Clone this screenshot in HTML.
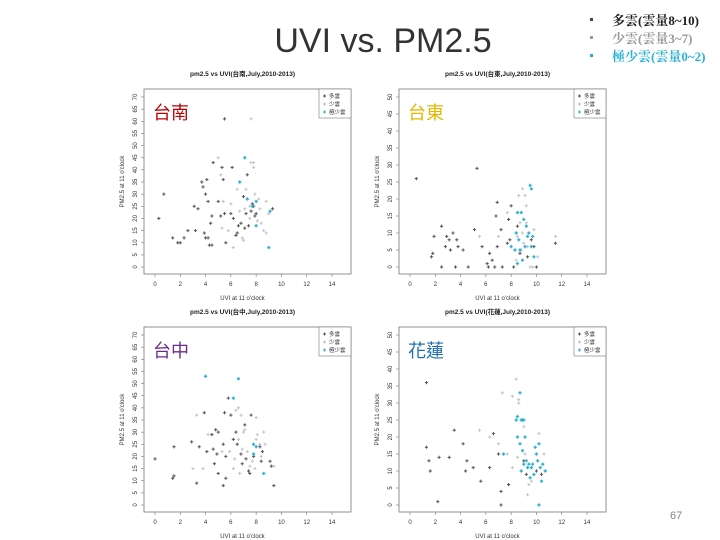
<!DOCTYPE html>
<html><head><meta charset="utf-8">
<style>
body{margin:0;background:#fff;}
#wrap{position:relative;width:720px;height:540px;overflow:hidden;font-family:"Liberation Sans","Noto Sans CJK TC",sans-serif;}
</style></head>
<body>
<div id="wrap">
<svg id="svg" width="720" height="540" xmlns="http://www.w3.org/2000/svg">
<text x="383" y="52" text-anchor="middle" font-size="34" fill="#333" font-family="Liberation Sans, sans-serif">UVI vs. PM2.5</text>
<g font-family="Liberation Serif, Noto Serif CJK SC, serif" font-size="13" font-weight="bold">
<rect x="590" y="18" width="3" height="3" fill="#444"/>
<text x="612" y="25" fill="#222">多雲(雲量8~10)</text>
<rect x="590" y="36" width="3" height="3" fill="#999"/>
<text x="612" y="43" fill="#999">少雲(雲量3~7)</text>
<rect x="590" y="54" width="3" height="3" fill="#29b2d4"/>
<text x="612" y="61" fill="#29b2d4">極少雲(雲量0~2)</text>
</g>
<text x="670" y="519" font-size="11" fill="#888">67</text>
</svg>
</div>
<script>
// Tainan
const tnDark=[[0.3,20],[0.7,30],[1.4,12],[1.8,10],[2,10],[2.3,12],[2.6,15],[3.1,25],[3.2,15],[3.4,24],[3.7,35],[3.8,33],[3.9,14],[4,12],[4,30],[4.1,36],[4.2,12],[4.2,27],[4.3,9],[4.4,18],[4.5,9],[4.5,21],[4.6,43],[5,27],[5.2,21],[5.3,41],[5.4,36],[5.5,61],[5.6,10],[5.5,22],[6,22],[6.1,41],[6.2,20],[6.4,13],[6.5,14],[6.6,17],[6.8,18],[7,29],[7.1,16],[7.2,22],[7.3,38],[7.4,17],[7.6,23],[7.7,26],[7.8,25],[7.9,21],[8,22],[9.3,24]];
const tnLight=[[5,45],[5.2,38],[5.4,27],[5.3,16],[5.8,15],[6,26],[6.2,8],[6.5,32],[6.9,12],[7,11],[7.2,32],[7.5,25],[7.6,61],[7.6,43],[7.8,43],[7.8,41],[7.5,20],[7.9,30],[8.1,19],[8.3,24],[8.6,15],[8.8,14],[8.8,27],[9,22],[6.7,23],[7.1,24],[8.4,18],[8.2,28]];
const tnCyan=[[7.1,45],[6.7,35],[7.3,28],[8,27],[8,17],[9,8],[9.1,23],[7.7,25]];
// Taitung
const ttDark=[[0.5,26],[1.7,3],[1.8,4],[1.9,9],[2.5,12],[2.5,0],[2.8,6],[2.9,9],[3.1,8],[3.2,5],[3.4,10],[3.6,0],[3.7,8],[3.8,6],[4.2,5],[4.6,0],[5.1,11],[5.3,29],[5.7,6],[6.1,1],[6.2,0],[6.3,4],[6.5,2],[6.7,0],[6.8,15],[6.9,6],[6.9,19],[7.2,11],[7.3,0],[7.7,7],[7.8,14],[7.9,8],[8,18],[8.2,0],[8.5,12],[8.7,4],[9.3,3],[9.6,8],[9.8,6],[10,0],[11.5,7]];
const ttLight=[[5.5,9],[7,9],[7.7,16],[8.5,9],[8.6,21],[8.9,23],[9.1,21],[9.2,18],[8.7,13],[8.9,10],[9,7],[9.3,6],[9.5,0],[9.7,0],[9.8,11],[10.1,3],[11.5,9],[8.4,2],[8.8,5],[9.2,13]];
const ttCyan=[[8,6],[8.4,10],[8.5,16],[8.6,8],[8.7,5],[8.8,16],[9,14],[9.2,12],[9.3,9],[9.5,24],[9.6,6],[9.6,23],[9.7,9],[9.8,3],[8.5,1],[8.9,2],[9.1,6],[8.3,5],[9.4,10]];
// Taichung
const tcDark=[[0,19],[1.4,11],[1.5,12],[1.5,24],[2.9,26],[3.3,9],[3.5,24],[3.9,38],[4.1,22],[4.5,29],[4.6,23],[4.7,17],[4.8,31],[4.9,21],[5,30],[5,13],[5.4,8],[5.4,25],[5.5,38],[5.6,20],[5.6,11],[5.8,44],[6,37],[6.2,27],[6.4,30],[6.5,25],[6.8,21],[6.9,17],[7.1,33],[7.2,19],[7.4,14],[7.6,37],[7.8,20],[8.3,24],[8.4,18],[8.5,22],[9.1,18],[9.2,16],[9.4,8],[7.5,13]];
const tcLight=[[3,15],[3.3,37],[3.8,15],[4.2,29],[4.5,29],[5.3,22],[5.9,22],[6.2,15],[6.3,19],[6.4,39],[6.6,40],[6.6,27],[6.8,37],[6.9,23],[7,30],[7.1,31],[7.3,22],[7.5,16],[7.7,18],[8,36],[8,27],[8.1,29],[8.3,25],[8.4,20],[8.6,30],[8.7,25],[9.4,16],[6.7,13],[7.9,15]];
const tcCyan=[[4,53],[6.6,52],[6.2,44],[7.8,25],[7.8,21],[8,24],[8.6,13]];
// Hualien
const hlDark=[[1.3,36],[1.3,17],[1.5,13],[1.6,10],[2.2,1],[2.3,14],[3.1,14],[3.5,22],[4.2,18],[4.4,10],[4.5,13],[5,11],[5.6,7],[6.3,11],[6.6,21],[7,15],[7.2,4],[7.2,0],[7.8,6],[9,13],[9.2,9],[10,10],[10.4,9]];
const hlLight=[[5.5,22],[6.3,20],[7,18],[7.3,33],[7.7,15],[8.1,32],[8.4,37],[8.6,31],[8.6,30],[9,23],[9.1,15],[9.4,6],[9.3,3],[8.5,14],[10.2,21],[10.6,15],[8.1,11],[9.6,7]];
const hlCyan=[[7.4,15],[8.4,25],[8.5,26],[8.7,33],[8.8,25],[8.9,25],[9,25],[8.5,20],[8.7,18],[8.9,16],[9.1,20],[9.2,13],[9.3,11],[9.4,12],[9.6,11],[9.8,9],[9.9,17],[10,15],[10.1,13],[10.2,18],[10.2,0],[10.3,11],[10.4,7],[10.5,12],[10.7,10],[9.5,8],[8.8,10],[9,12],[9.7,12]];
const xTicks=[0,2,4,6,8,10,12,14];
const yTicks70=[0,5,10,15,20,25,30,35,40,45,50,55,60,65,70];
const yTicks50=[0,5,10,15,20,25,30,35,40,45,50];

const NS='http://www.w3.org/2000/svg';
const svg=document.getElementById('svg');
function mk(tag,attrs,parent){const e=document.createElementNS(NS,tag);for(const k in attrs)e.setAttribute(k,attrs[k]);(parent||svg).appendChild(e);return e;}

function panel(cfg){
  const g=mk('g',{});
  
  
  const L=cfg.L,T=cfg.T,W=207,H=185;
  const x0=L+11,x14=L+188;
  const yb=T+178,yt=T+8;
  const yMax=cfg.yMax;
  const sx=v=>x0+(x14-x0)*v/14;
  const sy=v=>yb-(yb-yt)*v/yMax;
  const t=mk('text',{x:L+W/2-5,y:T-13,'text-anchor':'middle','font-size':'6.5','font-weight':'bold',fill:'#222'},g);
  t.textContent='pm2.5 vs UVI('+cfg.city+',July,2010-2013)';
  
  
  mk('rect',{x:L,y:T,width:W,height:H,fill:'none',stroke:'#777','stroke-width':'0.8'},g);
  xTicks.forEach(v=>{
    mk('line',{x1:sx(v),x2:sx(v),y1:T+H,y2:T+H+3,stroke:'#777','stroke-width':'0.6'},g);
    const tx=mk('text',{x:sx(v),y:T+H+12,'text-anchor':'middle','font-size':'6',fill:'#333'},g);
    tx.textContent=v;
    
    
  });
  cfg.yTicks.forEach(v=>{
    mk('line',{x1:L,x2:L-3,y1:sy(v),y2:sy(v),stroke:'#777','stroke-width':'0.6'},g);
    const ty=mk('text',{x:L-7,y:sy(v),'text-anchor':'middle','font-size':'6',fill:'#333',transform:'rotate(-90 '+(L-7)+' '+sy(v)+')'},g);
    ty.textContent=v;
    
    
  });
  const xl=mk('text',{x:L+W/2-5,y:T+H+26,'text-anchor':'middle','font-size':'6',fill:'#333'},g);
  xl.textContent='UVI at 11 o\'clock';
  
  
  const yl=mk('text',{x:L-20,y:T+H/2,'text-anchor':'middle','font-size':'6',fill:'#333',transform:'rotate(-90 '+(L-20)+' '+(T+H/2)+')'},g);
  yl.textContent='PM2.5 at 11 o\'clock';
  
  
  const series=[[cfg.light,'#c4c4c4'],[cfg.dark,'#555'],[cfg.cyan,'#2bb3cf']];
  series.forEach(([arr,c],si)=>{
    arr.forEach(p=>{
      const X=sx(p[0]),Y=sy(p[1]);
      const m=mk('path',{d:'M'+(X-1.6)+' '+Y+'h3.2M'+X+' '+(Y-1.6)+'v3.2',stroke:c,'stroke-width':si===2?'1.4':'1'},g);
      
      
    });
  });
  const lg=mk('g',{},g);
  
  
  mk('rect',{x:L+W-32,y:T,width:32,height:29,fill:'#fff',stroke:'#777','stroke-width':'0.6'},lg);
  [['多雲','#555'],['少雲','#bbb'],['極少雲','#2bb3cf']].forEach((e,i)=>{
    const yy=T+7+i*8;
    mk('path',{d:'M'+(L+W-28)+' '+yy+'h3M'+(L+W-26.5)+' '+(yy-1.5)+'v3',stroke:e[1],'stroke-width':'1'},lg);
    const lt=mk('text',{x:L+W-22,y:yy+2,'font-size':'5.5',fill:'#333'},lg);
    lt.textContent=e[0];
  });
  const cl=mk('text',{x:L+9,y:T+30,'font-size':'18',fill:cfg.color,'font-family':'Noto Sans CJK TC, sans-serif'},g);
  cl.textContent=cfg.city;
  
  
}
panel({id:'tainan',city:'台南',L:144,T:89,yMax:70,yTicks:yTicks70,dark:tnDark,light:tnLight,cyan:tnCyan,color:'#c00000'});
panel({id:'taitung',city:'台東',L:399,T:89,yMax:50,yTicks:yTicks50,dark:ttDark,light:ttLight,cyan:ttCyan,color:'#e6b800'});
panel({id:'taichung',city:'台中',L:144,T:327,yMax:70,yTicks:yTicks70,dark:tcDark,light:tcLight,cyan:tcCyan,color:'#6a2c8a'});
panel({id:'hualien',city:'花蓮',L:399,T:327,yMax:50,yTicks:yTicks50,dark:hlDark,light:hlLight,cyan:hlCyan,color:'#1f6fb0'});
</script>
</body></html>
